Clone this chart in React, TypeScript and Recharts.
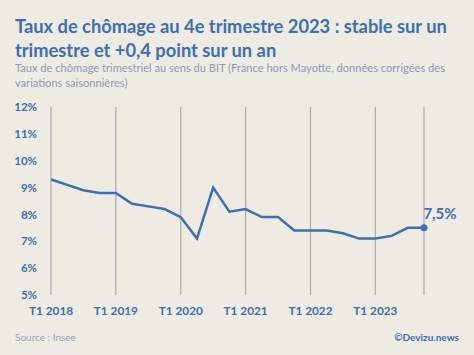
import { LineChart, Line, XAxis, YAxis, CartesianGrid, LabelList } from "recharts";

// taux de chômage trimestriel, T1 2018 -> T4 2023
const quarters = [
  "T1 2018", "T2 2018", "T3 2018", "T4 2018",
  "T1 2019", "T2 2019", "T3 2019", "T4 2019",
  "T1 2020", "T2 2020", "T3 2020", "T4 2020",
  "T1 2021", "T2 2021", "T3 2021", "T4 2021",
  "T1 2022", "T2 2022", "T3 2022", "T4 2022",
  "T1 2023", "T2 2023", "T3 2023", "T4 2023",
];
const rates = [
  9.3, 9.1, 8.9, 8.8,
  8.8, 8.4, 8.3, 8.2,
  7.9, 7.1, 9.0, 8.1,
  8.2, 7.9, 7.9, 7.4,
  7.4, 7.4, 7.3, 7.1,
  7.1, 7.2, 7.5, 7.5,
];
const xTicks = [0, 4, 8, 12, 16, 20];
const yTicks = [5, 6, 7, 8, 9, 10, 11, 12];

const data = quarters.map((q, i) => ({ idx: i, name: q, rate: rates[i] }));
const last = data.length - 1;

const BLUE = "#3d6fb1";
const BG = "#eeebe3";
const FONT = "Lato, 'Open Sans', sans-serif";

const fmt = (v: number) => String(v).replace(".", ",") + "%";

export default function App() {
  return (
    <div style={{ position: "relative", width: 474, height: 355, background: BG, fontFamily: FONT, overflow: "hidden" }}>
      <style>{`body{margin:0}`}</style>
      <div style={{ position: "absolute", left: 15, top: 14, width: 445, color: BLUE, fontWeight: 700, fontSize: 18.3, lineHeight: "24px" }}>
        Taux de chômage au 4e trimestre 2023 : stable sur un trimestre et +0,4 point sur un an
      </div>
      <div style={{ position: "absolute", left: 15, top: 60, width: 445, color: "#8c9cb6", fontSize: 11.1, lineHeight: "15px" }}>
        Taux de chômage trimestriel au sens du BIT (France hors Mayotte, données corrigées des variations saisonnières)
      </div>

      <div style={{ position: "absolute", left: 0, top: 0 }}>
        <LineChart width={474} height={355} data={data} margin={{ top: 107, right: 50, bottom: 30, left: 11 }}>
          <CartesianGrid horizontal={false} stroke="#a7abb2" strokeWidth={1.2} />
          <XAxis
            dataKey="idx"
            type="number"
            domain={[0, last]}
            ticks={xTicks}
            tickFormatter={(v: number) => quarters[v]}
            axisLine={false}
            tickLine={false}
            interval={0}
            tick={{ fill: BLUE, fontSize: 11.8, fontWeight: 700, fontFamily: FONT }}
            tickMargin={6}
          />
          <YAxis
            domain={[5, 12]}
            ticks={yTicks}
            tickFormatter={(v: number) => v + "%"}
            axisLine={false}
            tickLine={false}
            width={40}
            tickMargin={8}
            tick={{ fill: BLUE, fontSize: 11.5, fontWeight: 700, fontFamily: FONT }}
          />
          <Line
            type="linear"
            dataKey="rate"
            stroke={BLUE}
            strokeWidth={2.5}
            isAnimationActive={false}
            dot={(p: any) =>
              p.index === last ? <circle key="d" cx={p.cx} cy={p.cy} r={3.5} fill={BLUE} /> : <g key={p.index} />
            }
          >
            <LabelList
              dataKey="rate"
              content={(p: any) =>
                p.index === last ? (
                  <text x={p.x + 16} y={p.y - 9} textAnchor="middle" fill={BLUE} fontSize={15} fontWeight={700} fontFamily={FONT}>
                    {fmt(p.value)}
                  </text>
                ) : null
              }
            />
          </Line>
        </LineChart>
      </div>

      <div style={{ position: "absolute", left: 15, top: 331, color: "#97a5bb", fontSize: 10 }}>Source : Insee</div>
      <div style={{ position: "absolute", right: 15, top: 331, color: BLUE, fontSize: 10, fontWeight: 700 }}>©Devizu.news</div>
    </div>
  );
}
